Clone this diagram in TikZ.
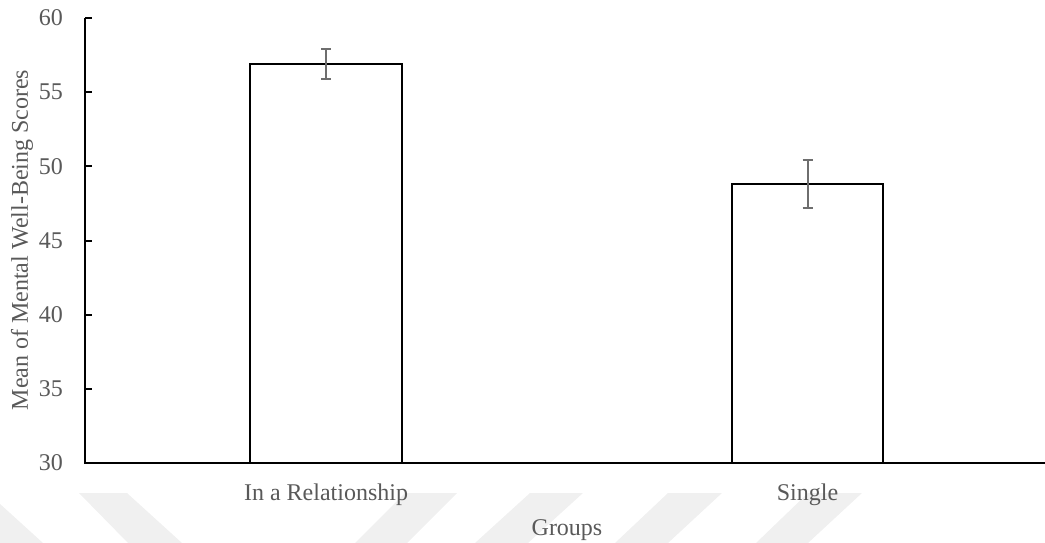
\documentclass[tikz,border=0pt]{standalone}
\usepackage{fontspec}
\setmainfont{Liberation Serif}
\begin{document}
\begin{tikzpicture}[x=1pt,y=-1pt,
  labeltext/.style={text=labelgray,inner sep=0pt,font=\fontsize{24}{28}\selectfont},
  axisline/.style={line width=2pt,black},
  barbox/.style={line width=2pt,draw=black,fill=white},
  errline/.style={line width=2pt,draw=errgray},
  stripe/.style={fill=black!6,draw=none}]
\definecolor{labelgray}{HTML}{595959}
\definecolor{errgray}{HTML}{6E6E6E}
\useasboundingbox (0,0) rectangle (1045,543);

% faint diagonal stripes along the bottom edge
\begin{scope}
\clip (0,0) rectangle (1045,543);
\fill[stripe] (-64,493) -- (-12,493) -- (43,543) -- (-9,543) -- cycle;
\fill[stripe] (79,493) -- (127,493) -- (182,543) -- (128,543) -- cycle;
\fill[stripe] (405,493) -- (457,493) -- (407,543) -- (355,543) -- cycle;
\fill[stripe] (530,493) -- (583,493) -- (528,543) -- (475,543) -- cycle;
\fill[stripe] (668,493) -- (722,493) -- (668,543) -- (615,543) -- cycle;
\fill[stripe] (808,493) -- (862,493) -- (808,543) -- (756,543) -- cycle;
\end{scope}

% value scale: 30 -> y=463, 60 -> y=18
\def\yscl{14.833}

% bars
\draw[barbox] (250,463) rectangle (402,{463-26.88*\yscl});
\draw[barbox] (732,463) rectangle (883,{463-18.83*\yscl});

% error bars
\draw[errline] (326,{463-25.88*\yscl}) -- (326,{463-27.88*\yscl});
\draw[errline] (321,{463-25.88*\yscl}) -- (331,{463-25.88*\yscl});
\draw[errline] (321,{463-27.88*\yscl}) -- (331,{463-27.88*\yscl});
\draw[errline] (807.5,{463-17.17*\yscl}) -- (807.5,{463-20.41*\yscl});
\draw[errline] (802.5,{463-17.17*\yscl}) -- (812.5,{463-17.17*\yscl});
\draw[errline] (802.5,{463-20.41*\yscl}) -- (812.5,{463-20.41*\yscl});

% axes
\draw[axisline] (85,18) -- (85,463) -- (1046,463);
\foreach \v/\nm in {30/a,35/b,40/c,45/d,50/e,55/f,60/g} {
  \draw[axisline] (85,{463-(\v-30)*\yscl}) -- (92,{463-(\v-30)*\yscl});
  \node[labeltext,anchor=east] (tick\nm) at (63,{463-(\v-30)*\yscl}) {\v};
}

% category and axis titles
\node[labeltext,anchor=base] (catrel) at (326,500) {In a Relationship};
\node[labeltext,anchor=base] (catsingle) at (807.5,500) {Single};
\node[labeltext,anchor=base] (xtitle) at (567,535) {Groups};
\node[labeltext,rotate=90] (ytitle) at (22,240) {Mean of Mental Well-Being Scores};
\end{tikzpicture}
\end{document}
